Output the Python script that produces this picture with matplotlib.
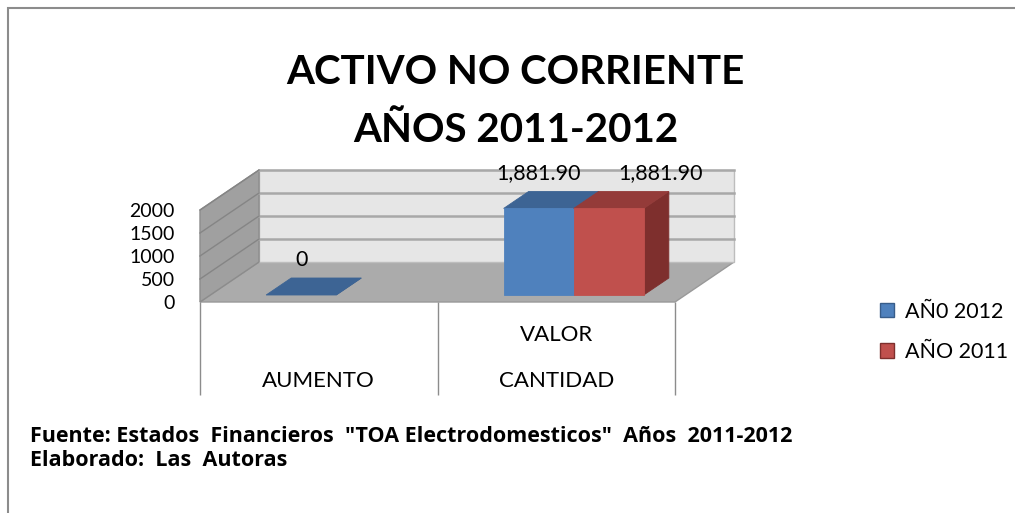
import matplotlib
matplotlib.use("Agg")
import matplotlib.pyplot as plt
from matplotlib.patches import Polygon, Rectangle, Patch

plt.rcParams['font.family'] = ['Lato', 'DejaVu Sans']

# datos
categorias = ["AUMENTO", "CANTIDAD"]
subcategorias = ["", "VALOR"]
series = ["AÑ0 2012", "AÑO 2011"]
valores_2012 = [0, 1881.90]
valores_2011 = [None, 1881.90]
ticks_y = [0, 500, 1000, 1500, 2000]

colores = [
    {"frente": "#4F81BD", "arriba": "#3D6494", "lado": "#385D8A"},
    {"frente": "#C0504D", "arriba": "#943B39", "lado": "#7E2F2D"},
]

W, H = 1015, 513
fig = plt.figure(figsize=(W / 100, H / 100), dpi=100)

# eje principal (cara frontal del piso)
ax = fig.add_axes([200 / W, 211 / H, 475 / W, 92 / H])
ax.set_xlim(0, 2)
ax.set_ylim(0, 2000)
ax.patch.set_visible(False)
for s in ax.spines.values():
    s.set_visible(False)

# profundidad 3D en unidades de datos
DX = 59 / 475 * 2
DY = 40 / 92 * 2000


def proy(x, y, z):
    return (x + z * DX, y + z * DY)


def cara(puntos, color, borde=None, lw=0.6, z=1):
    p = Polygon([proy(*q) for q in puntos], closed=True, facecolor=color,
                edgecolor=borde if borde else color, lw=lw, clip_on=False, zorder=z)
    ax.add_patch(p)


ymax = ticks_y[-1]
ncat = len(categorias)

# piso y paredes
cara([(0, 0, 0), (ncat, 0, 0), (ncat, 0, 1), (0, 0, 1)], "#ABABAB", "#999999", 1)
cara([(0, 0, 1), (ncat, 0, 1), (ncat, ymax, 1), (0, ymax, 1)], "#E6E6E6", "#BDBDBD", 1)
cara([(0, 0, 0), (0, 0, 1), (0, ymax, 1), (0, ymax, 0)], "#A0A0A0", "#8C8C8C", 1)

for v in ticks_y[1:]:
    x0, y0 = proy(0, v, 1)
    x1, y1 = proy(ncat, v, 1)
    ax.plot([x0, x1], [y0, y1], color="#A8A8A8", lw=1.8, clip_on=False, zorder=2)
    a = proy(0, v, 0)
    b = proy(0, v, 1)
    ax.plot([a[0], b[0]], [a[1], b[1]], color="#858585", lw=1, clip_on=False, zorder=2)

# barras
ancho = 0.295
desplaza = 0.03
zf, zb = 0.175, 0.6
for s, vals in enumerate([valores_2012, valores_2011]):
    for i, v in enumerate(vals):
        if v is None:
            continue
        x0 = i + 0.5 - ancho + desplaza + s * ancho
        x1 = x0 + ancho
        c = colores[s]
        cara([(x1, 0, zf), (x1, 0, zb), (x1, v, zb), (x1, v, zf)], c["lado"], z=3)
        cara([(x0, v, zf), (x1, v, zf), (x1, v, zb), (x0, v, zb)], c["arriba"], z=3)
        if v > 0:
            cara([(x0, 0, zf), (x1, 0, zf), (x1, v, zf), (x0, v, zf)], c["frente"], z=3)
        # etiqueta de datos
        xl = proy((x0 + x1) / 2, v, zf)[0]
        yl = proy(0, v, 1)[1]
        texto = f"{v:,.2f}" if v > 0 else f"{v:g}"
        dx = 37 if (s == 1) else 0
        ax.annotate(texto, (xl, yl), xytext=(dx, 1.5), textcoords="offset points",
                    ha="center", va="center", fontsize=15.5, annotation_clip=False, zorder=4)

# eje y
ax.set_yticks(ticks_y)
ax.tick_params(axis="y", length=0, pad=18, labelsize=14)
ax.set_xticks([])

# etiquetas de categorias
ax.vlines(range(ncat + 1), -2022, 0, color="#8C8C8C", lw=1, clip_on=False)
for i, cat in enumerate(categorias):
    ax.text(i + 0.5, -1717, cat, ha="center", va="center", fontsize=16, clip_on=False)
    if subcategorias[i]:
        ax.text(i + 0.5, -717, subcategorias[i], ha="center", va="center", fontsize=16, clip_on=False)

# leyenda
handles = [Patch(facecolor=colores[k]["frente"], edgecolor=colores[k]["lado"], label=series[k])
           for k in range(len(series))]
fig.legend(handles=handles, loc="center left", bbox_to_anchor=(861 / W, 1 - 332 / H),
           frameon=False, fontsize=15.5, handlelength=0.65, handleheight=0.65,
           labelspacing=0.95, handletextpad=0.5)

# titulo
fig.text(0.508, 1 - 73 / H, "ACTIVO NO CORRIENTE", ha="center", va="center",
         fontsize=29, fontweight="bold")
fig.text(0.508, 1 - 130 / H, "AÑOS 2011-2012", ha="center", va="center",
         fontsize=29, fontweight="bold")

# fuente
fig.text(30 / W, 1 - 437 / H, 'Fuente: Estados  Financieros  "TOA Electrodomesticos"  Años  2011-2012',
         ha="left", va="center", fontsize=15.5, fontweight="bold", family="Open Sans")
fig.text(30 / W, 1 - 461 / H, "Elaborado:  Las  Autoras",
         ha="left", va="center", fontsize=15.5, fontweight="bold", family="Open Sans")

# borde del grafico
borde = Rectangle((8 / W, -0.1), 1.2, 1.1 - 8 / H, transform=fig.transFigure,
                  fill=False, edgecolor="#8C8C8C", lw=1.5, clip_on=False)
fig.add_artist(borde)

fig.savefig("out.png", dpi=100)
